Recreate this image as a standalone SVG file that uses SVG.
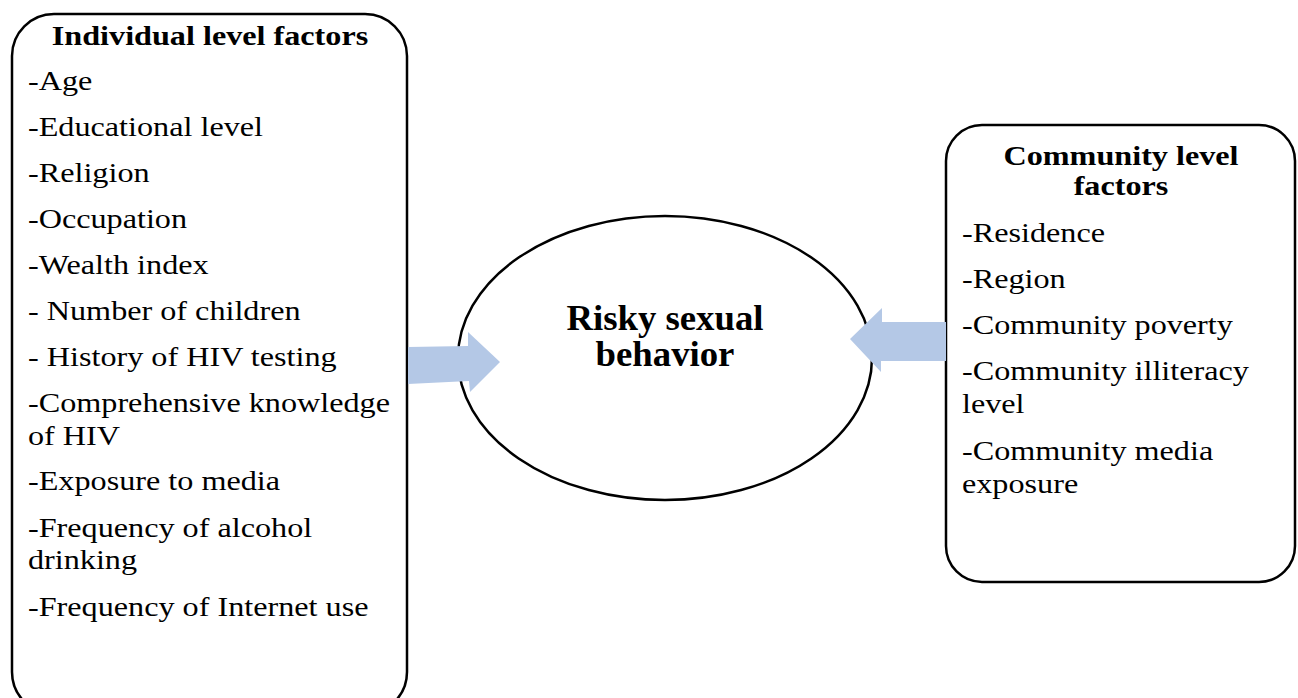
<svg xmlns="http://www.w3.org/2000/svg" width="1298" height="698" viewBox="0 0 1298 698">
<style>
.box{fill:#fff;stroke:#000;stroke-width:2.5}
.t{font-family:"Liberation Serif","Times New Roman",serif;font-size:28px;fill:#000}
.h{font-weight:bold;text-anchor:middle}
.c{font-family:"Liberation Serif","Times New Roman",serif;font-size:35px;font-weight:bold;text-anchor:middle;fill:#000}
.arr{fill:#b4c8e6}
</style>
<rect width="1298" height="698" fill="#fff"/>
<g id="individual">
<rect class="box" x="12" y="14" width="395" height="700" rx="42"/>
<g transform="translate(210 0) scale(1.15 1)">
<text class="t h" x="0" y="45">Individual level factors</text>
</g>
<g transform="translate(28 0) scale(1.15 1)">
<text class="t" x="0" y="90">-Age</text>
<text class="t" x="0" y="136">-Educational level</text>
<text class="t" x="0" y="182">-Religion</text>
<text class="t" x="0" y="228">-Occupation</text>
<text class="t" x="0" y="274">-Wealth index</text>
<text class="t" x="0" y="320">- Number of children</text>
<text class="t" x="0" y="366">- History of HIV testing</text>
<text class="t" x="0" y="412">-Comprehensive knowledge</text>
<text class="t" x="0" y="445">of HIV</text>
<text class="t" x="0" y="490">-Exposure to media</text>
<text class="t" x="0" y="537">-Frequency of alcohol</text>
<text class="t" x="0" y="569">drinking</text>
<text class="t" x="0" y="616">-Frequency of Internet use</text>
</g>
</g>
<g id="community">
<rect class="box" x="946" y="125" width="349" height="457" rx="36"/>
<g transform="translate(1121 0) scale(1.15 1)">
<text class="t h" x="0" y="165">Community level</text>
<text class="t h" x="0" y="195">factors</text>
</g>
<g transform="translate(962 0) scale(1.15 1)">
<text class="t" x="0" y="242">-Residence</text>
<text class="t" x="0" y="288">-Region</text>
<text class="t" x="0" y="334">-Community poverty</text>
<text class="t" x="0" y="380">-Community illiteracy</text>
<text class="t" x="0" y="413">level</text>
<text class="t" x="0" y="460">-Community media</text>
<text class="t" x="0" y="493">exposure</text>
</g>
</g>
<g id="outcome">
<ellipse cx="665" cy="358" rx="207" ry="142" fill="#fff" stroke="#000" stroke-width="2.5"/>
<g transform="translate(665 0) scale(1.05 1)">
<text class="c" x="0" y="330">Risky sexual</text>
<text class="c" x="0" y="366">behavior</text>
</g>
</g>
<g id="connectors">
<polygon class="arr" points="408,347 468,346 468,332 500,362 470,392 469,381 408,384"/>
<polygon class="arr" points="946,322 882,322 882,308 850,339 881,372 881,361 946,361"/>
</g>
</svg>
